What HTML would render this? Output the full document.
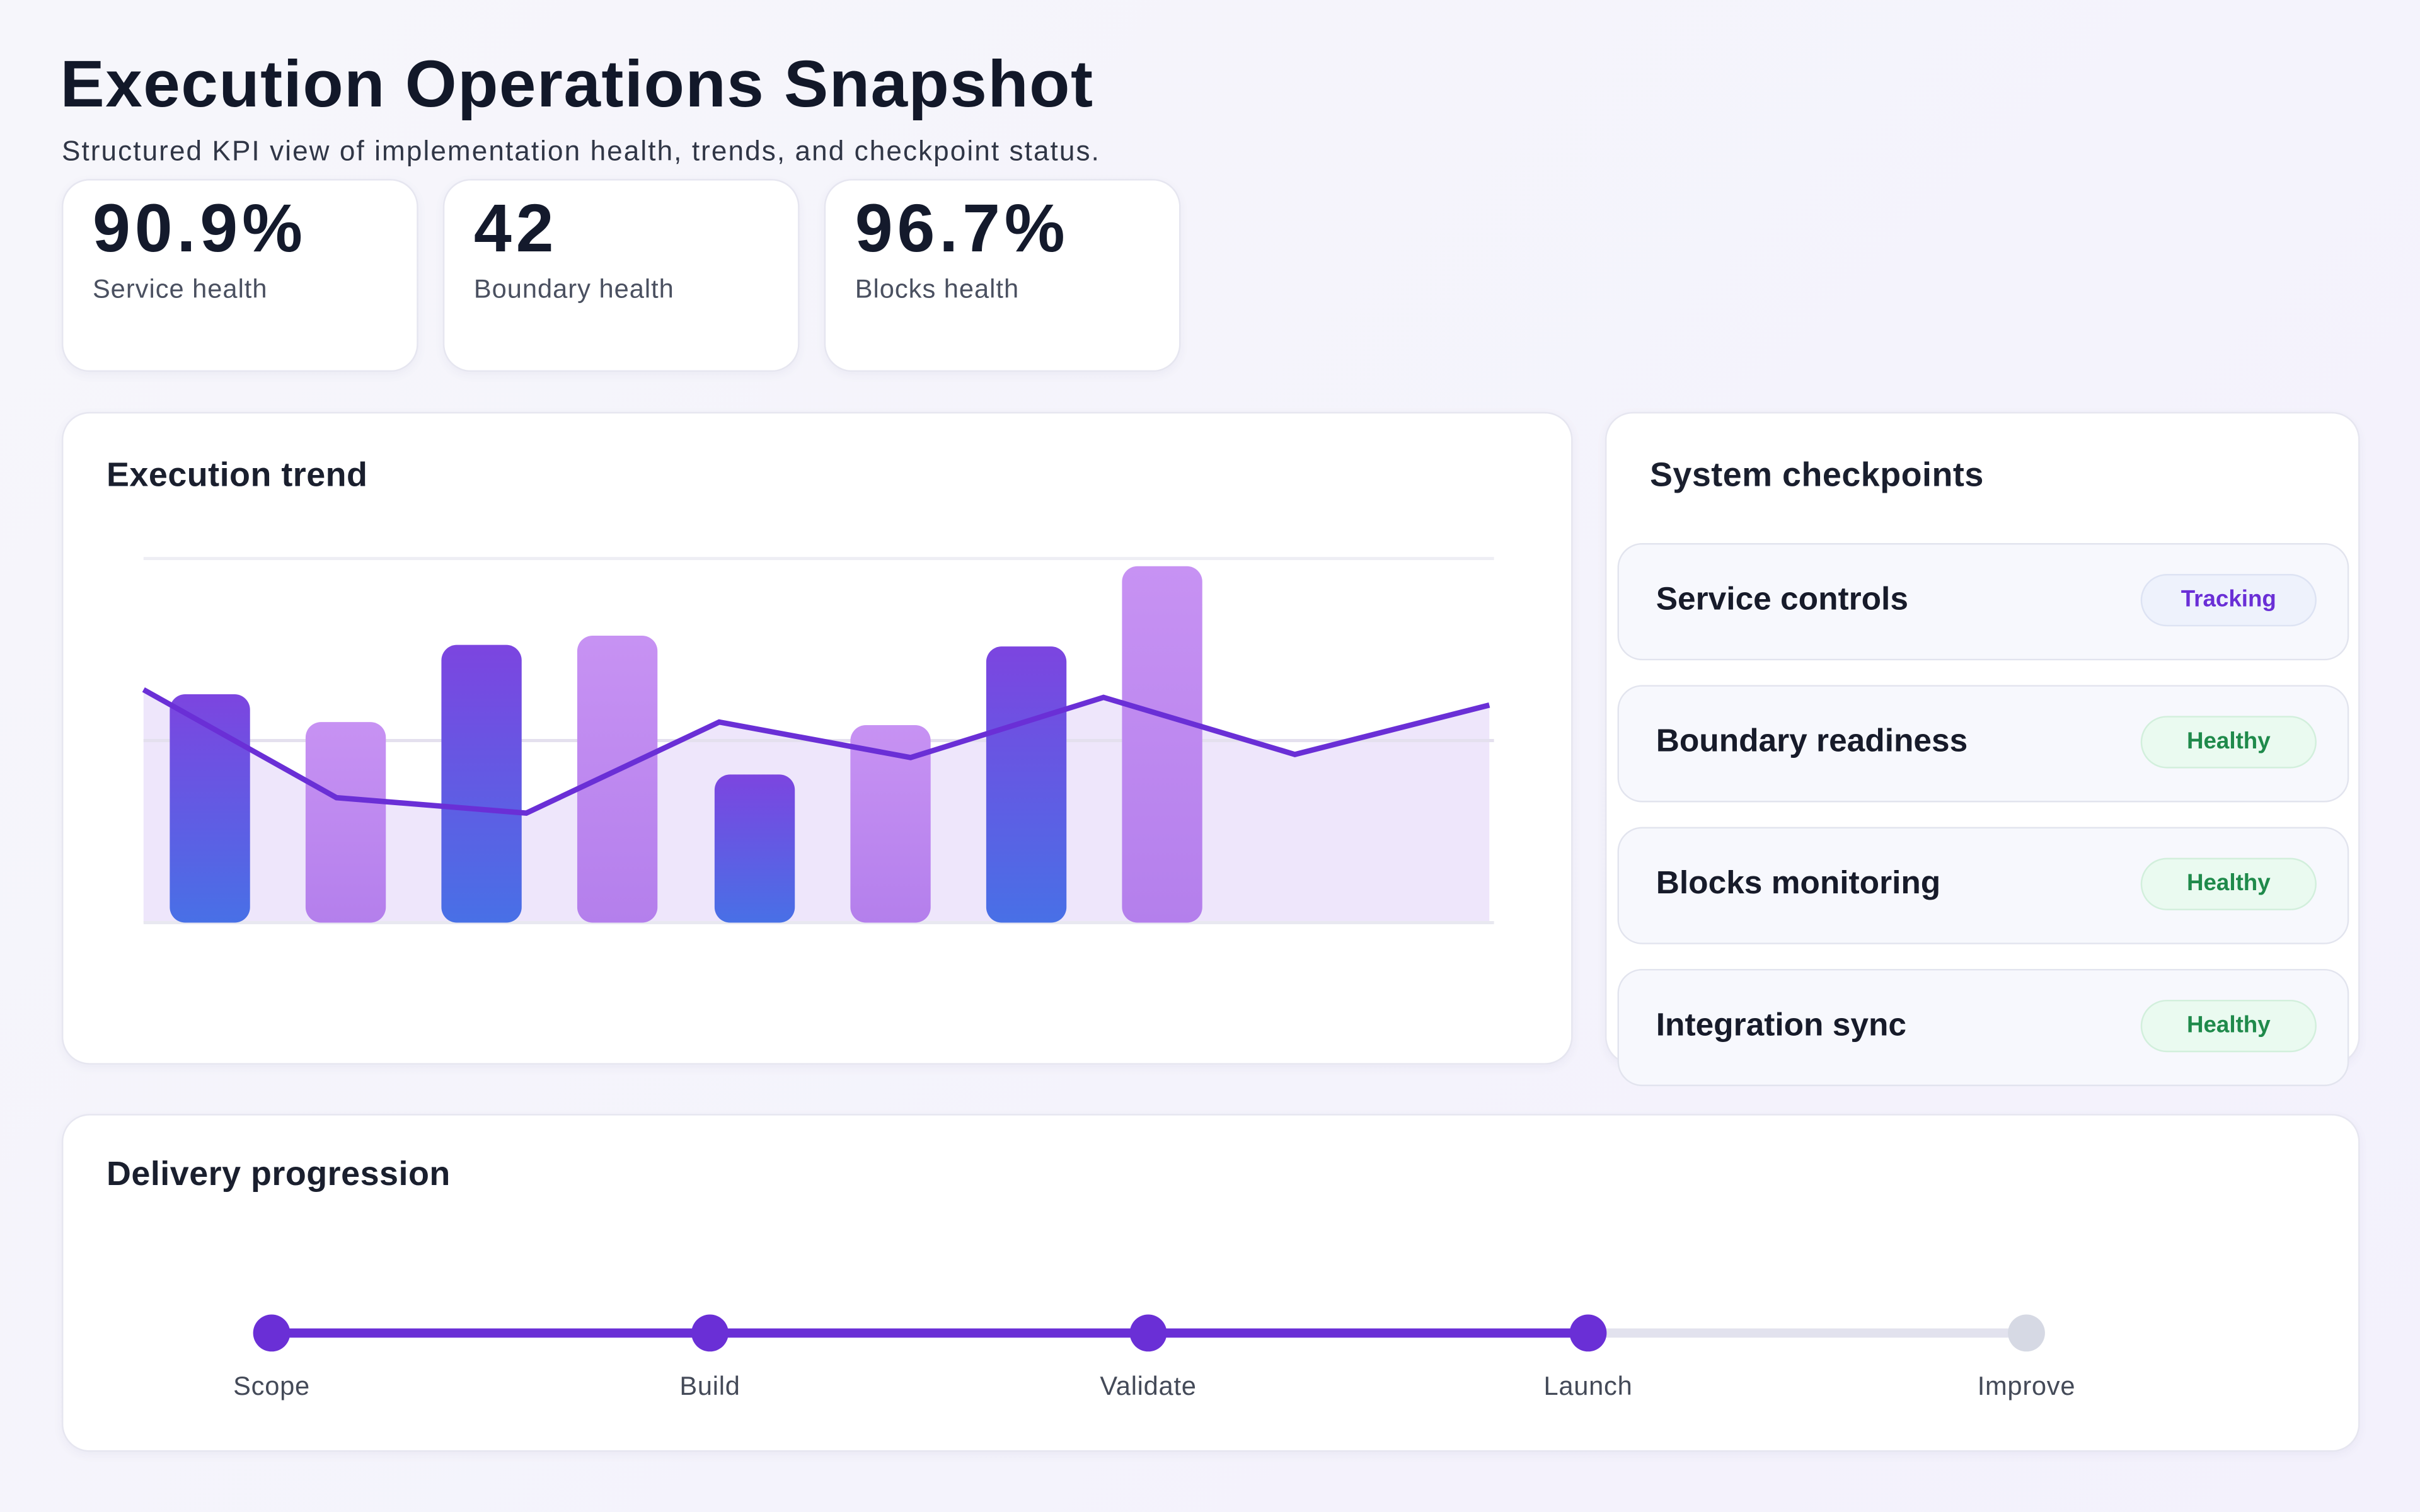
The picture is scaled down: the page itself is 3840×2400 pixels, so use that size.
<!DOCTYPE html>
<html><head><meta charset="utf-8"><style>
html,body{margin:0;padding:0;}
body{width:3840px;height:2400px;overflow:hidden;background:#f5f4fc;font-family:"Liberation Sans",sans-serif;}
#s{position:absolute;left:0;top:0;width:1568px;height:980px;transform:scale(2.44898);transform-origin:0 0;background:linear-gradient(135deg,#f6f6fb,#f3f1fc);}
.a{position:absolute;}
.card{position:absolute;background:#fff;border:1px solid #e6e6f0;border-radius:18px;box-shadow:0 2px 6px rgba(60,50,120,0.05);}
.v{position:absolute;left:19px;top:7px;font-size:44px;font-weight:bold;color:#141a2c;letter-spacing:2.8px;}
.l{position:absolute;left:19px;top:61px;font-size:17px;color:#4a5060;letter-spacing:0.4px;}
.h{position:absolute;font-size:22px;font-weight:bold;color:#1a1f2e;letter-spacing:0.2px;}
.it{position:absolute;left:1048px;width:472px;height:74px;background:#f7f8fd;border:1px solid #e2e4ee;border-radius:16px;}
.it span{position:absolute;left:24px;top:24px;font-size:21px;font-weight:bold;color:#171b2a;}
.b{position:absolute;left:338px;top:19px;width:112px;height:32px;border-radius:17px;font-size:15px;font-weight:bold;text-align:center;line-height:32px;}
.tr{background:#eef2fc;border:1px solid #dde3f3;color:#6a2fd6;}
.he{background:#eafaf0;border:1px solid #d2efdc;color:#1f8a4b;}
.lab{position:absolute;top:889px;font-size:17px;color:#444a58;width:120px;margin-left:-60px;text-align:center;letter-spacing:0.3px;}
</style></head><body><div id="s">
<div class="a" style="left:39px;top:31px;font-size:43px;font-weight:bold;color:#121829;letter-spacing:0.6px;">Execution Operations Snapshot</div>
<div class="a" style="left:40px;top:88px;font-size:18px;color:#303646;letter-spacing:0.85px;">Structured KPI view of implementation health, trends, and checkpoint status.</div>
<div class="card" style="left:40px;top:116px;width:229px;height:123px;"><div class="v">90.9%</div><div class="l">Service health</div></div>
<div class="card" style="left:287px;top:116px;width:229px;height:123px;"><div class="v">42</div><div class="l">Boundary health</div></div>
<div class="card" style="left:534px;top:116px;width:229px;height:123px;"><div class="v">96.7%</div><div class="l">Blocks health</div></div>

<div class="card" style="left:40px;top:267px;width:977px;height:421px;"></div>
<div class="h" style="left:69px;top:295px;">Execution trend</div>
<svg class="a" style="left:0;top:0" width="1568" height="980">
<defs>
<linearGradient id="g1" x1="0" y1="0" x2="0" y2="1"><stop offset="0" stop-color="#7c45e0"/><stop offset="1" stop-color="#4870e6"/></linearGradient>
<linearGradient id="g2" x1="0" y1="0" x2="0" y2="1"><stop offset="0" stop-color="#c792f3"/><stop offset="1" stop-color="#b47fec"/></linearGradient>
</defs>
<line x1="93" y1="362" x2="968" y2="362" stroke="#eeeef4" stroke-width="2"/>
<path d="M93,447 L218,517 L341,527 L466,468 L590,491 L715,452 L839,489 L965,457 L965,598 L93,598 Z" fill="#eee6fb"/>
<line x1="93" y1="480" x2="968" y2="480" stroke="#e4e0ee" stroke-width="2"/>
<line x1="93" y1="598" x2="968" y2="598" stroke="#e8e8f0" stroke-width="2"/>
<rect x="110" y="450" width="52" height="148" rx="10" fill="url(#g1)"/>
<rect x="198" y="468" width="52" height="130" rx="10" fill="url(#g2)"/>
<rect x="286" y="418" width="52" height="180" rx="10" fill="url(#g1)"/>
<rect x="374" y="412" width="52" height="186" rx="10" fill="url(#g2)"/>
<rect x="463" y="502" width="52" height="96" rx="10" fill="url(#g1)"/>
<rect x="551" y="470" width="52" height="128" rx="10" fill="url(#g2)"/>
<rect x="639" y="419" width="52" height="179" rx="10" fill="url(#g1)"/>
<rect x="727" y="367" width="52" height="231" rx="10" fill="url(#g2)"/>
<polyline points="93,447 218,517 341,527 466,468 590,491 715,452 839,489 965,457" fill="none" stroke="#6a2fd6" stroke-width="3.5" stroke-linejoin="miter"/>
</svg>

<div class="card" style="left:1040px;top:267px;width:487px;height:421px;"></div>
<div class="h" style="left:1069px;top:295px;">System checkpoints</div>
<div class="it" style="top:352px;"><span>Service controls</span><div class="b tr">Tracking</div></div>
<div class="it" style="top:444px;"><span>Boundary readiness</span><div class="b he">Healthy</div></div>
<div class="it" style="top:536px;"><span>Blocks monitoring</span><div class="b he">Healthy</div></div>
<div class="it" style="top:628px;"><span>Integration sync</span><div class="b he">Healthy</div></div>

<div class="card" style="left:40px;top:722px;width:1487px;height:217px;"></div>
<div class="h" style="left:69px;top:748px;">Delivery progression</div>
<svg class="a" style="left:0;top:0" width="1568" height="980">
<line x1="176" y1="864" x2="1313" y2="864" stroke="#e2e2ee" stroke-width="6"/>
<line x1="176" y1="864" x2="1029" y2="864" stroke="#6a2fd6" stroke-width="6"/>
<circle cx="176" cy="864" r="12" fill="#6a2fd6"/>
<circle cx="460" cy="864" r="12" fill="#6a2fd6"/>
<circle cx="744" cy="864" r="12" fill="#6a2fd6"/>
<circle cx="1029" cy="864" r="12" fill="#6a2fd6"/>
<circle cx="1313" cy="864" r="12" fill="#d6d9e4"/>
</svg>
<div class="lab" style="left:176px;">Scope</div>
<div class="lab" style="left:460px;">Build</div>
<div class="lab" style="left:744px;">Validate</div>
<div class="lab" style="left:1029px;">Launch</div>
<div class="lab" style="left:1313px;">Improve</div>
</div></body></html>
